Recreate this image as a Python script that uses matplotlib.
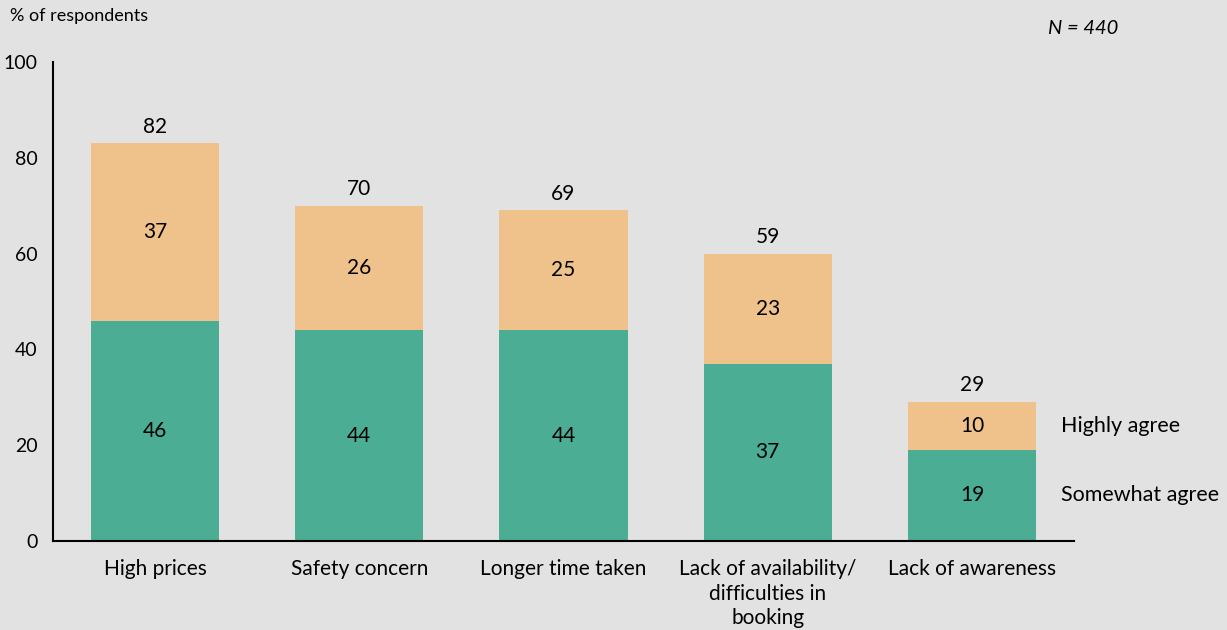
import matplotlib.pyplot as plt
import numpy as np

# Survey data: share of respondents citing each barrier
categories = ["High prices", "Safety concern", "Longer time taken",
              "Lack of availability/\ndifficulties in\nbooking", "Lack of awareness"]
somewhat = [46, 44, 44, 37, 19]
highly = [37, 26, 25, 23, 10]
totals = [82, 70, 69, 59, 29]

BG = "#e2e2e2"
GREEN = "#4aad94"
ORANGE = "#efc28b"
FS = 15

plt.rcParams["font.family"] = ["Lato", "DejaVu Sans"]

fig = plt.figure(figsize=(12.27, 6.3), dpi=100, facecolor=BG)
ax = fig.add_axes([0.0432, 0.1413, 0.8321, 0.7603], facecolor=BG)

x = np.arange(len(categories))
width = 0.627
ax.bar(x, somewhat, width, color=GREEN)
ax.bar(x, highly, width, bottom=somewhat, color=ORANGE)

# segment values and totals
for xi, s, h, t in zip(x, somewhat, highly, totals):
    ax.text(xi, s / 2, str(s), ha="center", va="center", fontsize=FS)
    ax.text(xi, s + h / 2, str(h), ha="center", va="center", fontsize=FS)
    ax.text(xi, s + h + 1.4, str(t), ha="center", va="bottom", fontsize=FS)

# series labels next to the last bar
ax.text(x[-1] + 0.436, somewhat[-1] + highly[-1] / 2, "Highly agree",
        ha="left", va="center", fontsize=15.5, clip_on=False)
ax.text(x[-1] + 0.436, somewhat[-1] / 2, "Somewhat agree",
        ha="left", va="center", fontsize=15.5, clip_on=False)

ax.set_xlim(-0.5, 4.5)
ax.set_ylim(0, 100)
ax.set_yticks([0, 20, 40, 60, 80, 100])
ax.set_xticks(x)
ax.set_xticklabels(categories, fontsize=FS, linespacing=1.28, va="top")
ax.tick_params(axis="y", length=0, pad=11, labelsize=14)
ax.tick_params(axis="x", length=0, pad=13)

for side in ["top", "right"]:
    ax.spines[side].set_visible(False)
ax.spines["left"].set_linewidth(1.5)
ax.spines["bottom"].set_linewidth(1.5)

fig.text(10 / 1227, 1 - 16 / 630, "% of respondents", fontsize=13,
         ha="left", va="center")
fig.text(1048 / 1227, 1 - 28 / 630, "N = 440", fontsize=14.5, style="italic",
         ha="left", va="center")

fig.savefig("out.png", dpi=100, facecolor=BG)
